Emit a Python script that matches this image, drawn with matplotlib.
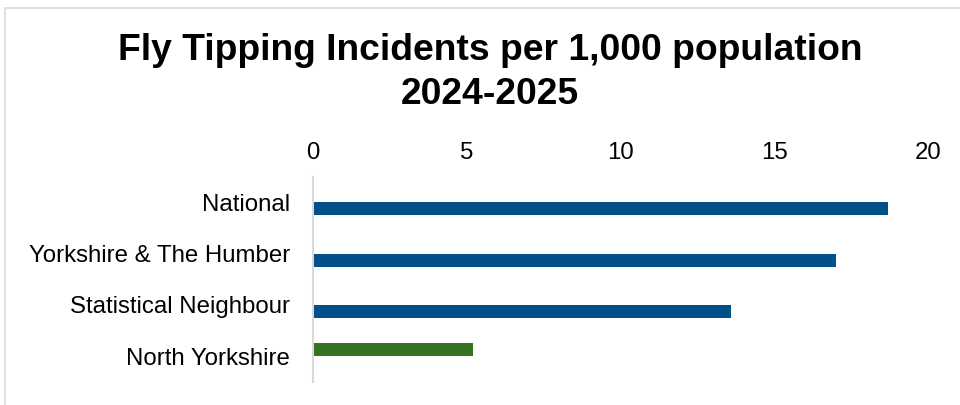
import matplotlib
matplotlib.use("Agg")
import matplotlib.pyplot as plt
from matplotlib.patches import Rectangle

plt.rcParams['font.family'] = ['Liberation Sans', 'DejaVu Sans']

categories = ["National", "Yorkshire & The Humber", "Statistical Neighbour", "North Yorkshire"]
comparator_values = [18.7, 17.0, 13.6, 0]
north_yorkshire_values = [0, 0, 0, 5.2]
xticks = [0, 5, 10, 15, 20]

W, H = 960, 405
fig = plt.figure(figsize=(W/100, H/100), dpi=100)
fig.patches.append(Rectangle((5/W, -0.1), 1.1, (H - 8)/H + 0.1, transform=fig.transFigure,
                             fill=False, edgecolor="#D9D9D9", linewidth=1.2))

ax = fig.add_axes([312.5/W, 1 - 381.7/H, (928 - 312.5)/W, (381.7 - 176.7)/H])
y = list(range(len(categories)))
h = 0.254
ax.barh([i + h/2 for i in y], comparator_values, height=h, color="#00508A")
ax.barh([i - h/2 for i in y], north_yorkshire_values, height=h, color="#367320")
ax.set_ylim(len(categories) - 0.5, -0.5)
ax.set_xlim(0, 20)
ax.set_xticks(xticks)
ax.xaxis.tick_top()
ax.set_yticks(y)
ax.set_yticklabels(categories)
ax.tick_params(axis='both', length=0, labelsize=17.3, colors="#000000")
ax.tick_params(axis='x', pad=9.5)
ax.tick_params(axis='y', pad=16)
for s in ["top", "right", "bottom"]:
    ax.spines[s].set_visible(False)
ax.spines["left"].set_color("#D9D9D9")
ax.spines["left"].set_linewidth(1.5)

fig.text(490/W, 1 - 50/H, "Fly Tipping Incidents per 1,000 population", ha="center", va="center",
         fontsize=26.8, fontweight="bold")
fig.text(490/W, 1 - 94/H, "2024-2025", ha="center", va="center", fontsize=26.8, fontweight="bold")

fig.savefig("out.png", dpi=100)
